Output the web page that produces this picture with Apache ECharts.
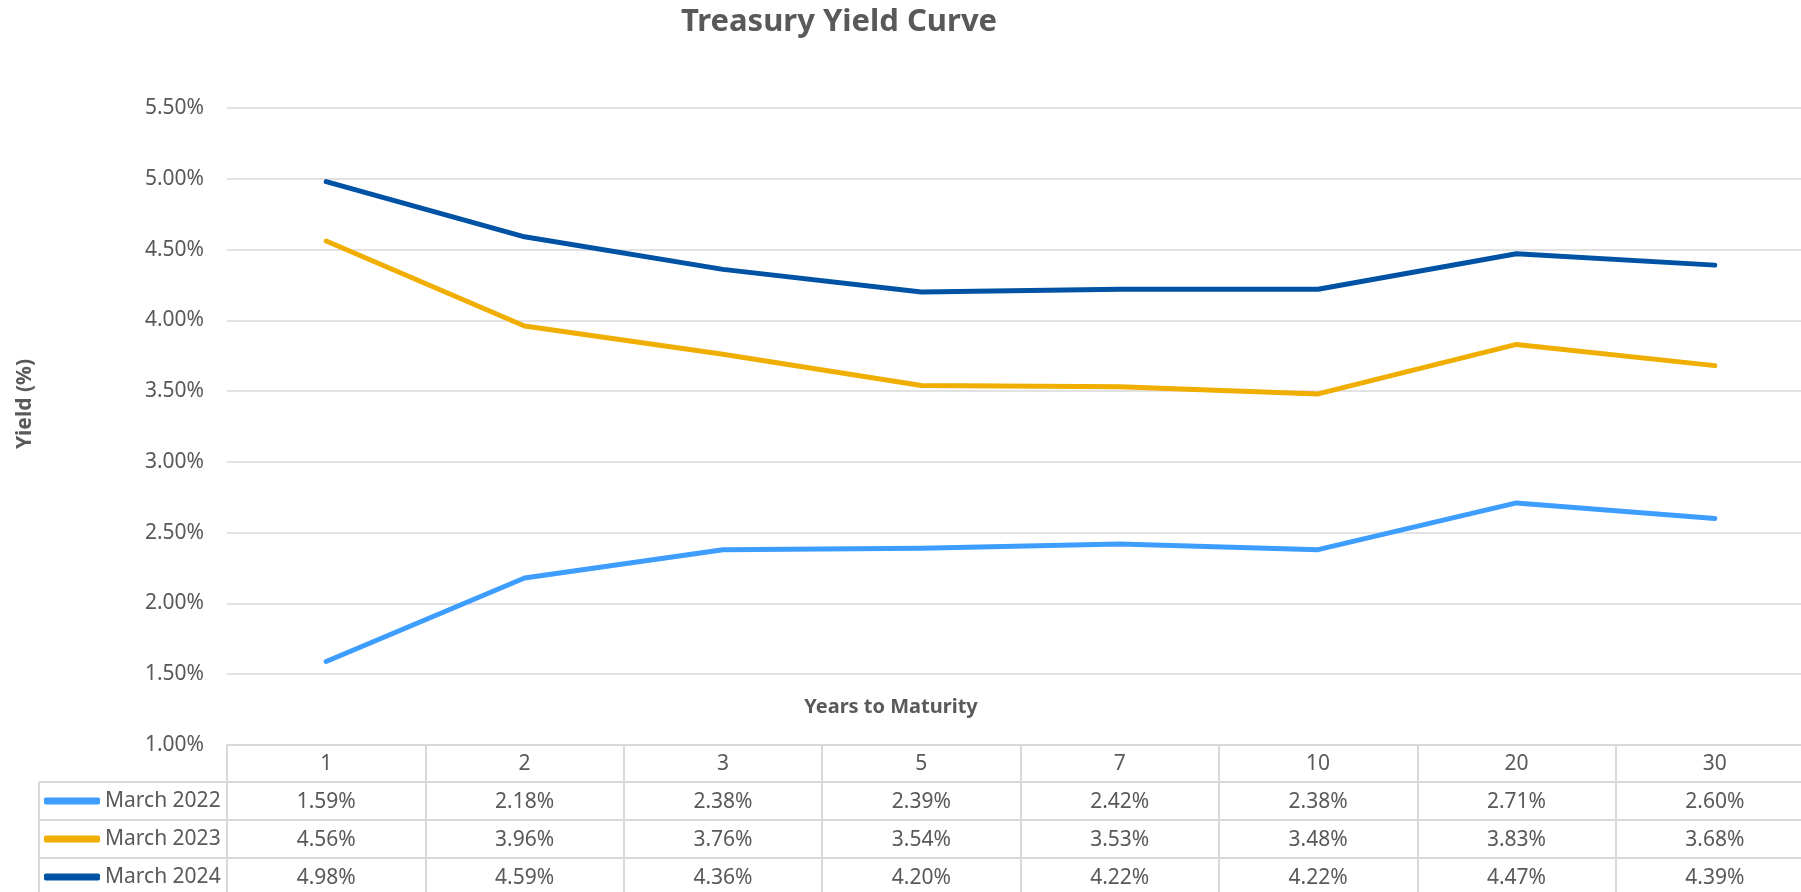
<!DOCTYPE html>
<html>
<head>
<meta charset="utf-8">
<title>Treasury Yield Curve</title>
<script src="https://cdn.jsdelivr.net/npm/echarts@6/dist/echarts.min.js"></script>
<style>
  html, body { margin: 0; padding: 0; background: #fff; }
  #chart { width: 1801px; height: 892px; }
</style>
</head>
<body>
<div id="chart"></div>
<script>
// 数据
var maturities = ['1', '2', '3', '5', '7', '10', '20', '30'];
var seriesNames = ['March 2022', 'March 2023', 'March 2024'];
var yield2022 = [1.59, 2.18, 2.38, 2.39, 2.42, 2.38, 2.71, 2.60];
var yield2023 = [4.56, 3.96, 3.76, 3.54, 3.53, 3.48, 3.83, 3.68];
var yield2024 = [4.98, 4.59, 4.36, 4.20, 4.22, 4.22, 4.47, 4.39];
var colors = ['#3d9eff', '#f0ae00', '#0053a4'];

var textColor = '#595959';
var lineColor = '#d9d9d9';
var font = '"Noto Sans", "Open Sans", sans-serif';
var allRows = [yield2022, yield2023, yield2024];
var rowTops = [782, 820, 858];

var chart = echarts.init(document.getElementById('chart'));

function pct(v) { return v.toFixed(2) + '%'; }

// 表格横线
function hLine(y, x1) {
  return {
    type: 'line', silent: true,
    shape: { x1: x1, y1: y, x2: 1801, y2: y },
    style: { stroke: lineColor, lineWidth: 2 }
  };
}

// 每行一个图例
var legends = seriesNames.map(function (name, i) {
  return {
    orient: 'horizontal',
    left: 44, top: rowTops[i], padding: 0,
    itemWidth: 56, itemHeight: 7, itemGap: 0,
    icon: 'roundRect',
    selectedMode: false,
    textStyle: { fontFamily: font, fontSize: 21, color: textColor, lineHeight: 38 },
    data: [name]
  };
});

var option = {
  color: colors,
  title: [
    {
      text: 'Treasury Yield Curve',
      left: 834, top: 2, textAlign: 'center',
      textStyle: { fontFamily: font, fontSize: 31, fontWeight: 'bold', color: textColor }
    },
    {
      text: 'Years to Maturity',
      left: 886, top: 692, textAlign: 'center',
      textStyle: { fontFamily: font, fontSize: 20, fontWeight: 'bold', color: textColor }
    }
  ],
  legend: legends,
  grid: { left: 227, top: 108, width: 1587, height: 637, outerBoundsMode: 'none', containLabel: false },
  xAxis: {
    type: 'category',
    data: maturities,
    boundaryGap: true,
    axisLine: { lineStyle: { color: lineColor, width: 2 } },
    axisTick: { show: true, interval: 0, length: 150, lineStyle: { color: lineColor, width: 2 } },
    axisLabel: {
      interval: 0, margin: 0,
      fontFamily: font, fontSize: 21, color: textColor, lineHeight: 38,
      formatter: function (val, idx) {
        var lines = [val];
        allRows.forEach(function (r) { lines.push(pct(r[idx])); });
        return lines.join('\n');
      }
    }
  },
  yAxis: {
    type: 'value',
    min: 1, max: 5.5, interval: 0.5,
    axisLine: { show: false },
    axisTick: { show: false },
    splitLine: { lineStyle: { color: lineColor, width: 1.5 } },
    axisLabel: {
      margin: 23,
      fontFamily: font, fontSize: 21, color: textColor,
      formatter: function (v) { return pct(v); }
    }
  },
  graphic: [
    hLine(782, 39), hLine(820, 39), hLine(858, 39),
    {
      type: 'line', silent: true,
      shape: { x1: 39, y1: 782, x2: 39, y2: 892 },
      style: { stroke: lineColor, lineWidth: 2 }
    },
    {
      type: 'text', silent: true,
      x: 25, y: 404, rotation: Math.PI / 2,
      style: {
        text: 'Yield (%)', fontFamily: font, fontSize: 21, fontWeight: 'bold',
        fill: textColor, textAlign: 'center', textVerticalAlign: 'middle'
      }
    }
  ],
  series: [
    { name: seriesNames[0], data: yield2022 },
    { name: seriesNames[1], data: yield2023 },
    { name: seriesNames[2], data: yield2024 }
  ].map(function (s) {
    return {
      name: s.name, type: 'line', data: s.data,
      symbol: 'none', smooth: false,
      lineStyle: { width: 5, cap: 'round', join: 'round' }
    };
  })
};
chart.setOption(option);
</script>
</body>
</html>
